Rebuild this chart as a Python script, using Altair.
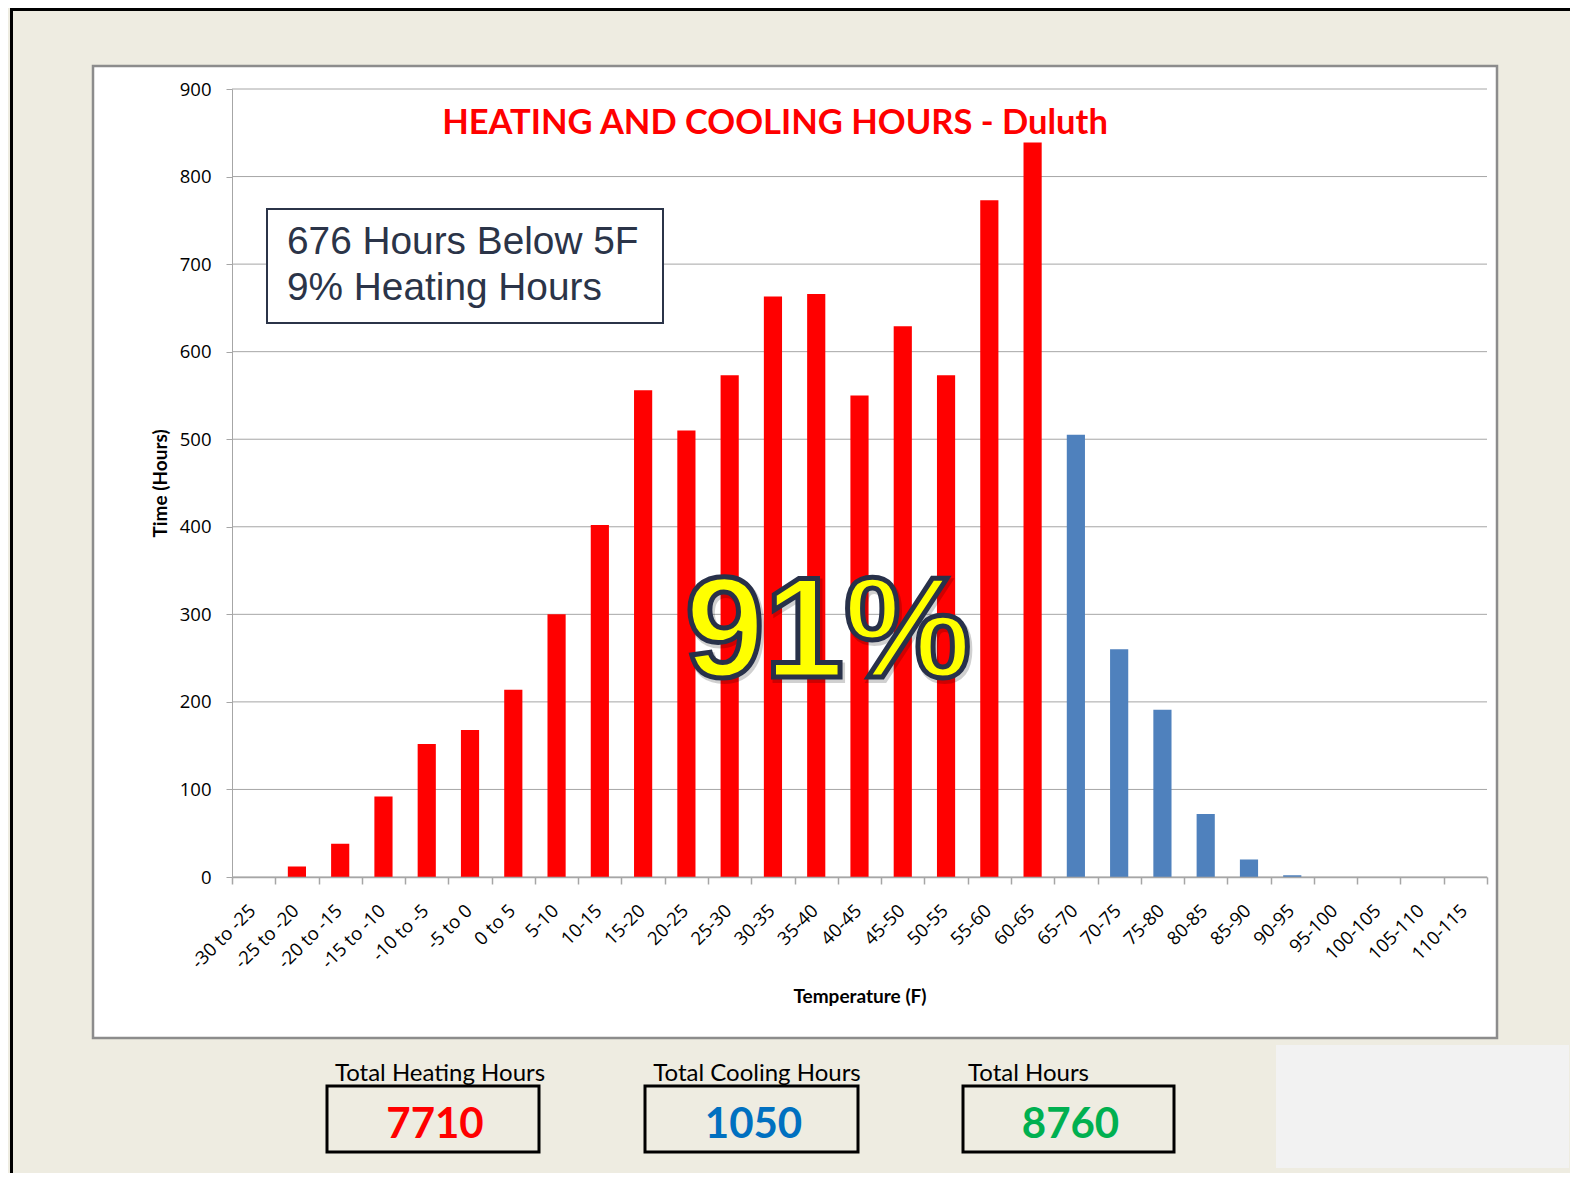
import altair as alt
import pandas as pd

# ---------------- data ----------------
categories = ["-30 to -25", "-25 to -20", "-20 to -15", "-15 to -10", "-10 to -5",
              "-5 to 0", "0 to 5", "5-10", "10-15", "15-20", "20-25", "25-30",
              "30-35", "35-40", "40-45", "45-50", "50-55", "55-60", "60-65",
              "65-70", "70-75", "75-80", "80-85", "85-90", "90-95", "95-100",
              "100-105", "105-110", "110-115"]
heating_hours = [0, 12, 38, 92, 152, 168, 214, 300, 402, 556, 510, 573, 663, 666,
                 550, 629, 573, 773, 839]
cooling_hours = [505, 260, 191, 72, 20, 2, 0, 0, 0, 0]
y_ticks = [0, 100, 200, 300, 400, 500, 600, 700, 800, 900]

chart_title = "HEATING AND COOLING HOURS - Duluth"
note_lines = ["676 Hours Below 5F", "9% Heating Hours"]
big_label = "91%"
total_labels = ["Total Heating Hours", "Total Cooling Hours", "Total Hours"]
total_values = [7710, 1050, 8760]

# ---------------- layout ----------------
W, H = 1255, 788
PAD = {"left": 224, "top": 81, "right": 83, "bottom": 296}

series = ["Heating"] * len(heating_hours) + ["Cooling"] * len(cooling_hours)
df = pd.DataFrame({"range": categories, "hours": heating_hours + cooling_hours, "type": series})
grid_df = pd.DataFrame({"v": y_ticks})
one = alt.Data(values=[{"k": 0}])

y_scale = alt.Scale(domain=[0, 900], nice=False)
y_axis = alt.Axis(values=y_ticks, grid=False, domainColor="#A6A6A6", domainWidth=1,
                  tickColor="#A6A6A6", tickSize=6, labelPadding=15,
                  labelFont="Open Sans", labelFontSize=18.5, labelColor="#000000",
                  title="Time (Hours)", titleFont="Lato", titleFontSize=19,
                  titleFontWeight="bold", titleColor="#000000", titleAngle=270,
                  titleX=-66, titleY=H / 2, titleBaseline="alphabetic",
                  titleAlign="center", zindex=1)
x_axis = alt.Axis(labelAngle=-45, labelFont="Open Sans", labelFontSize=18.5,
                  labelColor="#000000", labelPadding=17, labelOffset=-8,
                  labelOverlap=False,
                  tickBand="extent", tickSize=7, tickColor="#A6A6A6", tickWidth=1.5,
                  domainColor="#A6A6A6", domainWidth=1.5, grid=False,
                  title="Temperature (F)", titleFont="Lato", titleFontSize=19,
                  titleFontWeight="bold", titleColor="#000000", titleY=125,
                  titleBaseline="alphabetic", zindex=1)


def rect(x, x2, y, y2, **kw):
    return alt.Chart(one).mark_rect(**kw).encode(
        x=alt.value(x), x2=alt.value(x2), y=alt.value(y), y2=alt.value(y2))


def text(s, x, y, **kw):
    return alt.Chart(one).mark_text(text=s, **kw).encode(x=alt.value(x), y=alt.value(y))


layers = []
# black frame lines of the slide
layers.append(rect(-222, PAD["right"] + W, -81, -78, color="#000000"))
layers.append(rect(-222, -219, -81, H + PAD["bottom"], color="#000000"))
# white chart panel
layers.append(rect(-139, 1265, -23, 949, fill="#FFFFFF", stroke="#8C8C8C", strokeWidth=2.5))
# light grey box bottom right
layers.append(rect(1044, 1337, 956, 1079, color="#F2F2F2"))

# gridlines
layers.append(alt.Chart(grid_df).mark_rule(color="#A6A6A6", strokeWidth=1).encode(
    y=alt.Y("v:Q", scale=y_scale, axis=y_axis)))

# bars
layers.append(alt.Chart(df).mark_bar(width={"band": 0.42}).encode(
    x=alt.X("range:N", sort=categories,
            scale=alt.Scale(domain=categories, paddingInner=0, paddingOuter=0),
            axis=x_axis),
    y=alt.Y("hours:Q", scale=y_scale, axis=y_axis),
    color=alt.Color("type:N", scale=alt.Scale(domain=["Heating", "Cooling"],
                                              range=["#FF0000", "#4F81BD"]), legend=None),
))

# title
layers.append(text(chart_title, 543, 45, font="Lato", fontSize=34.5, fontWeight="bold",
                   color="#FF0000", align="center", baseline="alphabetic"))

# annotation box
layers.append(rect(35, 431, 120, 234, fill="#FFFFFF", stroke="#2B3448", strokeWidth=2))
layers.append(text(note_lines[0], 55, 165, font="Liberation Sans", fontSize=38.8,
                   color="#2B3448", align="left", baseline="alphabetic"))
layers.append(text(note_lines[1], 55, 211, font="Liberation Sans", fontSize=38.8,
                   color="#2B3448", align="left", baseline="alphabetic"))

# big 91% (with a soft shadow)
layers.append(text(big_label, 598, 591, font="Liberation Sans", fontSize=143,
                   fontWeight="bold", color="#000000", opacity=0.18, stroke="#000000",
                   strokeWidth=6, align="center", baseline="alphabetic"))
layers.append(text(big_label, 596, 588, font="Liberation Sans", fontSize=143,
                   fontWeight="bold", color="#FFFF00", stroke="#28314A", strokeWidth=5,
                   align="center", baseline="alphabetic"))

# totals at the bottom
box_x = [(95, 307), (413, 626), (731, 942)]
label_pos = [(208, "center"), (525, "center"), (736, "left")]
num_colors = ["#FF0000", "#0070C0", "#00B050"]
for i in range(3):
    x0, x1 = box_x[i]
    layers.append(text(total_labels[i], label_pos[i][0], 992, font="Lato", fontSize=24,
                       color="#000000", align=label_pos[i][1], baseline="alphabetic"))
    layers.append(rect(x0, x1, 997, 1063, fill="transparent", stroke="#000000", strokeWidth=3))
    layers.append(text(str(total_values[i]), (x0 + x1) / 2 + 2, 1049, font="Lato", fontSize=42,
                       fontWeight="bold", color=num_colors[i], align="center",
                       baseline="alphabetic"))

chart = alt.layer(*layers).properties(
    width=W, height=H, padding=PAD, autosize=alt.AutoSizeParams(type="none")
).configure(background="#EEECE1").configure_view(stroke=None)

chart.save("out.html", embed_options={"renderer": "svg", "actions": False})
